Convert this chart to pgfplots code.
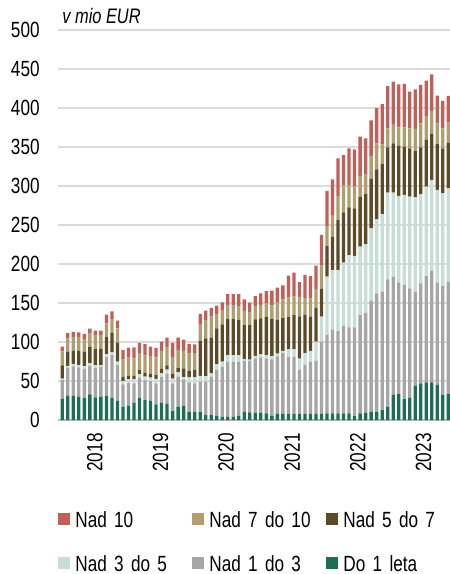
\documentclass[border=0pt]{standalone}
\usepackage{pgfplots}
\usepackage{pgfplotstable}
\pgfplotsset{compat=1.18}
\usepackage{fontspec}
\setmainfont{Liberation Sans}[FakeStretch=0.78]
\definecolor{cR}{RGB}{192,96,88}
\definecolor{cT}{RGB}{176,158,112}
\definecolor{cB}{RGB}{92,74,40}
\definecolor{cL}{RGB}{198,222,214}
\definecolor{cN}{RGB}{166,166,166}
\definecolor{cG}{RGB}{30,110,85}
\pgfplotsset{mylegend/.style={legend image code/.code={\fill[##1] (0pt,-3pt) rectangle (6pt,3pt);}}}
\pgfplotstableread{
x g n l b t r
0 27 24 2 17 18 6
1 31 36 2.5 18 17 7
2 31 37.6 3 17.5 17 7
3 29.5 38 3 18 17 7
4 28 38 3 18.4 16.7 6.4
5 33 36.8 3 21 17.5 6
6 29 38 3.4 20.5 18 5.6
7 30 38.5 2 21 17.5 5.6
8 31 49.6 3.8 22.6 17 11
9 28.6 54.7 3.4 25 17.5 10
10 24.4 46 4.3 24.4 18.4 9.8
11 17 28.6 4.3 5.6 22 12
12 18 30 4.3 4.3 23.5 12.8
13 22 25 5 5 22 14
14 28.6 25.6 4.7 5 22 13
15 25.6 25.6 4.3 5 23 13.7
16 24.4 25.6 4.3 4.7 23 12
17 20 27 5.6 5 22.6 12.4
18 22 33 5 5.6 22.2 12.8
19 21 38.5 5 5.6 23.5 12
20 11.5 35.5 6 6 22 18
21 17 38.5 5.6 6 22.6 16
22 18 34 3.4 10.7 22.6 14.5
23 10.7 37.5 6.5 8.5 22 12
24 10.7 36.3 7.7 9.4 22 11
25 10.7 38.5 7.3 45.3 21.4 12.8
26 6.4 42.7 7.3 48.3 22.6 12.8
27 6.4 49 4.3 45.7 27 11.5
28 5.6 58.5 7.3 46 18.4 10.7
29 4.3 64 6.4 47.9 18.4 9.8
30 4.3 70.5 8.5 46 18 14
31 4.3 70.5 8.5 46 18 14
32 5.6 69 8.5 44.9 18.4 15
33 10.7 65 2 44 18 15
34 9.8 66 1.7 44 17 12
35 9.4 69.7 3 47 17 12.8
36 9.4 71 3.8 46 17 15
37 8.5 70.5 4.3 49 18 15
38 5.6 72 4.3 48 17 19
39 7.7 74 3.4 43.6 22.6 18.4
40 7.7 78 3 42 23.5 18.4
41 7.7 73.5 9.4 42 24.4 28
42 7.7 73.5 9.4 44 24.4 30
43 7.7 57 14 54 25 19
44 7.7 63 15 49 21.4 30
45 7.7 67 14 43.6 23.5 28.6
46 7.7 68.3 24.4 43.6 24 30
47 7.7 92.7 32.1 35.5 30.7 38.5
48 8.5 100.5 74.8 39.2 25.7 44.9
49 8.5 107.7 76.1 42.7 27.8 45.7
50 8.5 105.6 78.2 64.1 30.8 48.3
51 8.5 112 81.2 64.5 35.1 38.4
52 8.5 110.3 92.7 61.1 28.7 47
53 5.1 113.7 91.5 61.1 27.7 47.9
54 8.5 126.1 87.6 64.1 26.5 50.4
55 9.4 128.2 88 64.1 25.7 45.7
56 10.7 141.9 93.1 63.3 28.6 46.4
57 10.7 151.7 94.9 64.1 33.3 45.3
58 12.8 151.7 99.6 64.1 25.2 51.7
59 17.1 163.2 111.2 58.1 24.3 54.3
60 32.1 151.7 107.7 63.2 24.8 54.3
61 33.3 143.2 110.7 64.1 23.9 55.1
62 26.9 146.2 115.4 61.9 24.8 55.6
63 28.6 140.2 117.5 62 25.6 47
64 43.6 120.9 121 59.8 27.8 50.8
65 47 128.2 114.5 59.9 30.7 49.2
66 48.3 136.3 114.5 59.9 29.9 46.1
67 48.3 143.2 116.2 59 29.5 47
68 44.9 131.2 118.8 58.9 26.5 35.5
69 32.1 139.7 118.8 57.7 25.6 35.1
70 33.3 144.1 119.6 58.6 25.6 34.2
}\data
\begin{document}
\begin{tikzpicture}
\path[use as bounding box] (-29pt,-77pt) rectangle (196pt,210pt);
\begin{axis}[name=ax,
  at={(0pt,0pt)}, anchor=south west,
  scale only axis, width=196pt, height=195pt,
  ybar stacked, bar width=0.6,
  xmin=-0.78, xmax=70.3, ymin=0, ymax=500,
  ytick={0,50,...,500},
  xtick={5.9,17.8,29.7,41.7,53.6,65.5},
  xticklabels={2018,2019,2020,2021,2022,2023},
  /pgf/number format/assume math mode=true,
  /pgf/number format/1000 sep={},
  every tick label/.append style={font=\fontsize{11}{13}\selectfont},
  yticklabel style={anchor=east, inner sep=0pt, xshift=-9pt},
  xticklabel style={rotate=90, anchor=east, inner ysep=0pt, inner xsep=6.5pt},
  major tick length=0pt,
  axis x line*=bottom, axis y line*=left,
  y axis line style={draw=none},
  x axis line style={draw=gray!55, line width=1pt},
  ymajorgrids, grid style={draw=gray!28, line width=0.75pt},
  legend columns=3, reverse legend, legend cell align=left,
  legend style={draw=none, fill=none, inner sep=0pt,
    at={(0,0)}, anchor=north west, yshift=-45.5pt,
    row sep=14.1pt,
    font=\fontsize{11}{13}\selectfont,
    nodes={inner sep=0pt, text width=58.5pt, text height=7.9pt, text depth=0pt},
    /tikz/every odd column/.append style={column sep=2.5pt}},
]
\addplot[fill=cG, draw=none, mylegend] table[x=x,y=g]{\data};
\addlegendentry{Do 1 leta}
\addplot[fill=cN, draw=none, mylegend] table[x=x,y=n]{\data};
\addlegendentry{Nad 1 do 3}
\addplot[fill=cL, draw=none, mylegend] table[x=x,y=l]{\data};
\addlegendentry{Nad 3 do 5}
\addplot[fill=cB, draw=none, mylegend] table[x=x,y=b]{\data};
\addlegendentry{Nad 5 do 7}
\addplot[fill=cT, draw=none, mylegend] table[x=x,y=t]{\data};
\addlegendentry{Nad 7 do 10}
\addplot[fill=cR, draw=none, mylegend] table[x=x,y=r]{\data};
\addlegendentry{Nad 10}
\end{axis}
\node[anchor=base west, inner sep=0pt, xshift=2pt, yshift=3pt, font=\itshape\fontsize{10.5}{12}\selectfont] at (ax.north west) {v mio EUR};
\end{tikzpicture}
\end{document}
